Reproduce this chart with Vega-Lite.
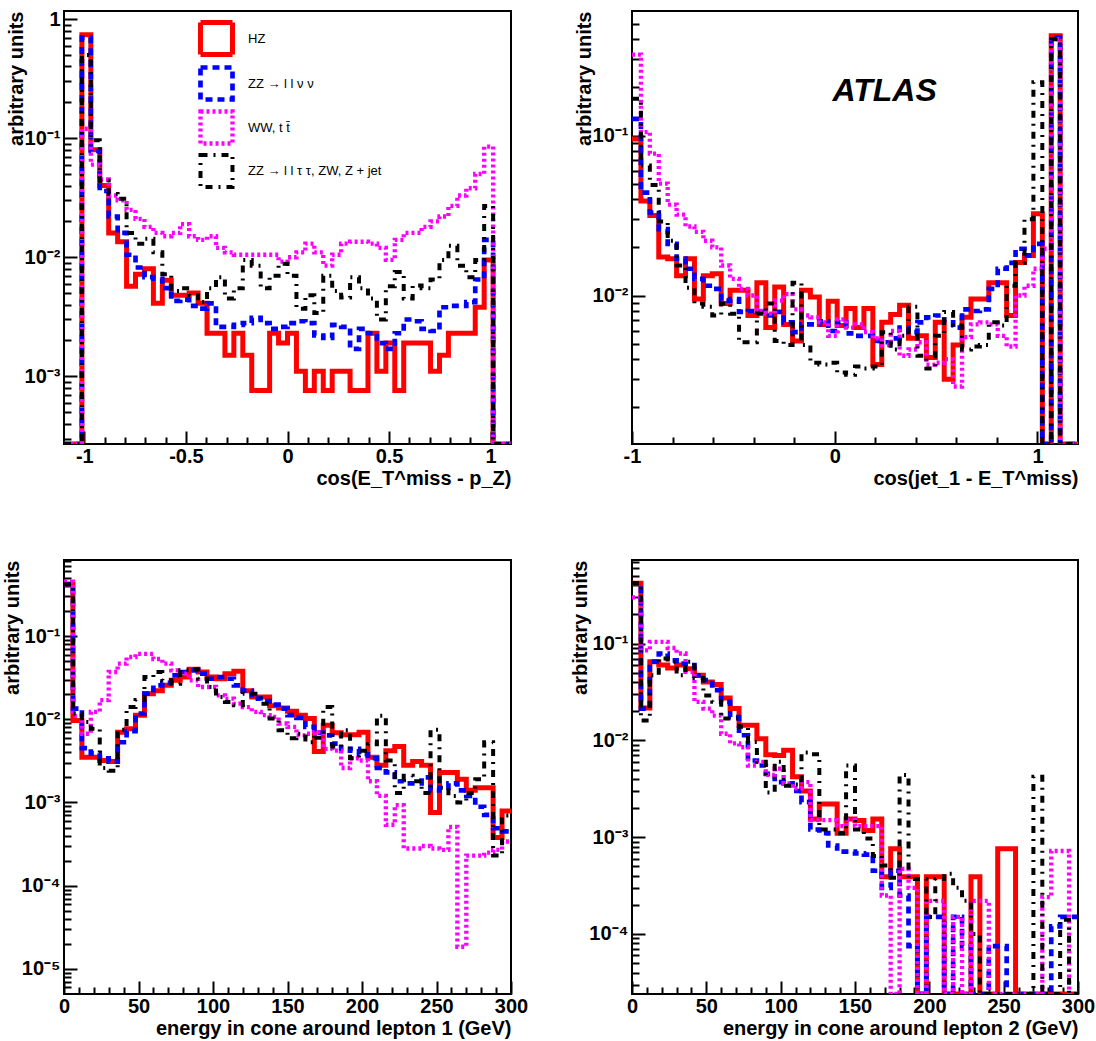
{
"$schema": "https://vega.github.io/schema/vega-lite/v6.json",
"background": "white",
"padding": {"left": 1, "top": 8, "right": 0, "bottom": 0},
"columns": 2,
"spacing": {"row": 116, "column": 121},
"bounds": "flush",
"resolve": {"legend": {"color": "independent", "strokeDash": "independent", "strokeWidth": "independent"}},
"config": {
  "font": "Liberation Sans",
  "view": {"stroke": "#000000", "strokeWidth": 2},
  "axis": {"domain": false, "grid": false, "labelFont": "Liberation Sans", "labelFontWeight": "bold", "labelFontSize": 20, "labelColor": "#000000", "titleFont": "Liberation Sans", "titleFontWeight": "bold", "titleFontSize": 20, "titleColor": "#000000", "tickColor": "#000000", "tickWidth": 2, "labelOverlap": false, "labelFlush": false}
},
"datasets": {
"p1": [
{"s":"a","x":-1.1,"y":1e-9},{"s":"a","x":-1.056,"y":1e-9},{"s":"a","x":-1.012,"y":0.74},{"s":"a","x":-0.968,"y":0.08},{"s":"a","x":-0.924,"y":0.04},{"s":"a","x":-0.88,"y":0.016},{"s":"a","x":-0.836,"y":0.0135},{"s":"a","x":-0.792,"y":0.0057},{"s":"a","x":-0.748,"y":0.0072},{"s":"a","x":-0.704,"y":0.008},
{"s":"a","x":-0.66,"y":0.0041},{"s":"a","x":-0.616,"y":0.0064},{"s":"a","x":-0.572,"y":0.0048},{"s":"a","x":-0.528,"y":0.0048},{"s":"a","x":-0.484,"y":0.005},{"s":"a","x":-0.44,"y":0.0041},{"s":"a","x":-0.396,"y":0.0023},{"s":"a","x":-0.352,"y":0.0023},{"s":"a","x":-0.308,"y":0.0015},{"s":"a","x":-0.264,"y":0.0023},
{"s":"a","x":-0.22,"y":0.0015},{"s":"a","x":-0.176,"y":0.00076},{"s":"a","x":-0.132,"y":0.00076},{"s":"a","x":-0.088,"y":0.0023},{"s":"a","x":-0.044,"y":0.0019},{"s":"a","x":0,"y":0.0023},{"s":"a","x":0.044,"y":0.0011},{"s":"a","x":0.088,"y":0.00076},{"s":"a","x":0.132,"y":0.0011},{"s":"a","x":0.176,"y":0.00076},
{"s":"a","x":0.22,"y":0.0011},{"s":"a","x":0.264,"y":0.0011},{"s":"a","x":0.308,"y":0.00076},{"s":"a","x":0.352,"y":0.00076},{"s":"a","x":0.396,"y":0.0023},{"s":"a","x":0.44,"y":0.0011},{"s":"a","x":0.484,"y":0.0019},{"s":"a","x":0.528,"y":0.00076},{"s":"a","x":0.572,"y":0.0019},{"s":"a","x":0.616,"y":0.0019},
{"s":"a","x":0.66,"y":0.0019},{"s":"a","x":0.704,"y":0.0011},{"s":"a","x":0.748,"y":0.0015},{"s":"a","x":0.792,"y":0.0023},{"s":"a","x":0.836,"y":0.0023},{"s":"a","x":0.88,"y":0.0023},{"s":"a","x":0.924,"y":0.0038},{"s":"a","x":0.968,"y":0.0095},{"s":"a","x":1.012,"y":1e-9},{"s":"a","x":1.056,"y":1e-9},{"s":"a","x":1.1,"y":1e-9},
{"s":"b","x":-1.1,"y":1e-9},{"s":"b","x":-1.056,"y":1e-9},{"s":"b","x":-1.012,"y":0.7},{"s":"b","x":-0.968,"y":0.078},{"s":"b","x":-0.924,"y":0.036},{"s":"b","x":-0.88,"y":0.022},{"s":"b","x":-0.836,"y":0.016},{"s":"b","x":-0.792,"y":0.0105},{"s":"b","x":-0.748,"y":0.0082},{"s":"b","x":-0.704,"y":0.0068},
{"s":"b","x":-0.66,"y":0.0066},{"s":"b","x":-0.616,"y":0.0055},{"s":"b","x":-0.572,"y":0.0043},{"s":"b","x":-0.528,"y":0.0044},{"s":"b","x":-0.484,"y":0.0039},{"s":"b","x":-0.44,"y":0.0037},{"s":"b","x":-0.396,"y":0.0041},{"s":"b","x":-0.352,"y":0.0026},{"s":"b","x":-0.308,"y":0.0026},{"s":"b","x":-0.264,"y":0.0027},
{"s":"b","x":-0.22,"y":0.0028},{"s":"b","x":-0.176,"y":0.0031},{"s":"b","x":-0.132,"y":0.0028},{"s":"b","x":-0.088,"y":0.0025},{"s":"b","x":-0.044,"y":0.0026},{"s":"b","x":0,"y":0.0028},{"s":"b","x":0.044,"y":0.0029},{"s":"b","x":0.088,"y":0.0028},{"s":"b","x":0.132,"y":0.0022},{"s":"b","x":0.176,"y":0.0021},
{"s":"b","x":0.22,"y":0.0027},{"s":"b","x":0.264,"y":0.0026},{"s":"b","x":0.308,"y":0.0017},{"s":"b","x":0.352,"y":0.0025},{"s":"b","x":0.396,"y":0.0023},{"s":"b","x":0.44,"y":0.0019},{"s":"b","x":0.484,"y":0.0017},{"s":"b","x":0.528,"y":0.0023},{"s":"b","x":0.572,"y":0.003},{"s":"b","x":0.616,"y":0.0029},
{"s":"b","x":0.66,"y":0.0025},{"s":"b","x":0.704,"y":0.0024},{"s":"b","x":0.748,"y":0.0038},{"s":"b","x":0.792,"y":0.0039},{"s":"b","x":0.836,"y":0.0039},{"s":"b","x":0.88,"y":0.0042},{"s":"b","x":0.924,"y":0.0065},{"s":"b","x":0.968,"y":0.014},{"s":"b","x":1.012,"y":1e-9},{"s":"b","x":1.056,"y":1e-9},{"s":"b","x":1.1,"y":1e-9},
{"s":"c","x":-1.1,"y":1e-9},{"s":"c","x":-1.056,"y":1e-9},{"s":"c","x":-1.012,"y":0.12},{"s":"c","x":-0.968,"y":0.06},{"s":"c","x":-0.924,"y":0.045},{"s":"c","x":-0.88,"y":0.033},{"s":"c","x":-0.836,"y":0.03},{"s":"c","x":-0.792,"y":0.025},{"s":"c","x":-0.748,"y":0.021},{"s":"c","x":-0.704,"y":0.018},
{"s":"c","x":-0.66,"y":0.016},{"s":"c","x":-0.616,"y":0.015},{"s":"c","x":-0.572,"y":0.016},{"s":"c","x":-0.528,"y":0.019},{"s":"c","x":-0.484,"y":0.015},{"s":"c","x":-0.44,"y":0.014},{"s":"c","x":-0.396,"y":0.015},{"s":"c","x":-0.352,"y":0.012},{"s":"c","x":-0.308,"y":0.011},{"s":"c","x":-0.264,"y":0.0105},
{"s":"c","x":-0.22,"y":0.0105},{"s":"c","x":-0.176,"y":0.0105},{"s":"c","x":-0.132,"y":0.0105},{"s":"c","x":-0.088,"y":0.0105},{"s":"c","x":-0.044,"y":0.0092},{"s":"c","x":0,"y":0.01},{"s":"c","x":0.044,"y":0.011},{"s":"c","x":0.088,"y":0.013},{"s":"c","x":0.132,"y":0.011},{"s":"c","x":0.176,"y":0.0085},
{"s":"c","x":0.22,"y":0.0105},{"s":"c","x":0.264,"y":0.013},{"s":"c","x":0.308,"y":0.0135},{"s":"c","x":0.352,"y":0.0135},{"s":"c","x":0.396,"y":0.013},{"s":"c","x":0.44,"y":0.012},{"s":"c","x":0.484,"y":0.0095},{"s":"c","x":0.528,"y":0.014},{"s":"c","x":0.572,"y":0.016},{"s":"c","x":0.616,"y":0.016},
{"s":"c","x":0.66,"y":0.018},{"s":"c","x":0.704,"y":0.02},{"s":"c","x":0.748,"y":0.022},{"s":"c","x":0.792,"y":0.027},{"s":"c","x":0.836,"y":0.033},{"s":"c","x":0.88,"y":0.038},{"s":"c","x":0.924,"y":0.05},{"s":"c","x":0.968,"y":0.085},{"s":"c","x":1.012,"y":1e-9},{"s":"c","x":1.056,"y":1e-9},{"s":"c","x":1.1,"y":1e-9},
{"s":"d","x":-1.1,"y":1e-9},{"s":"d","x":-1.056,"y":1e-9},{"s":"d","x":-1.012,"y":0.5},{"s":"d","x":-0.968,"y":0.096},{"s":"d","x":-0.924,"y":0.044},{"s":"d","x":-0.88,"y":0.034},{"s":"d","x":-0.836,"y":0.031},{"s":"d","x":-0.792,"y":0.016},{"s":"d","x":-0.748,"y":0.013},{"s":"d","x":-0.704,"y":0.0143},
{"s":"d","x":-0.66,"y":0.011},{"s":"d","x":-0.616,"y":0.0072},{"s":"d","x":-0.572,"y":0.0052},{"s":"d","x":-0.528,"y":0.0055},{"s":"d","x":-0.484,"y":0.0048},{"s":"d","x":-0.44,"y":0.0042},{"s":"d","x":-0.396,"y":0.0055},{"s":"d","x":-0.352,"y":0.0068},{"s":"d","x":-0.308,"y":0.0045},{"s":"d","x":-0.264,"y":0.0055},
{"s":"d","x":-0.22,"y":0.0095},{"s":"d","x":-0.176,"y":0.0085},{"s":"d","x":-0.132,"y":0.0055},{"s":"d","x":-0.088,"y":0.007},{"s":"d","x":-0.044,"y":0.0088},{"s":"d","x":0,"y":0.007},{"s":"d","x":0.044,"y":0.0037},{"s":"d","x":0.088,"y":0.0048},{"s":"d","x":0.132,"y":0.0034},{"s":"d","x":0.176,"y":0.007},
{"s":"d","x":0.22,"y":0.0052},{"s":"d","x":0.264,"y":0.0046},{"s":"d","x":0.308,"y":0.0068},{"s":"d","x":0.352,"y":0.0055},{"s":"d","x":0.396,"y":0.0045},{"s":"d","x":0.44,"y":0.003},{"s":"d","x":0.484,"y":0.0057},{"s":"d","x":0.528,"y":0.0075},{"s":"d","x":0.572,"y":0.0045},{"s":"d","x":0.616,"y":0.0058},
{"s":"d","x":0.66,"y":0.0055},{"s":"d","x":0.704,"y":0.0065},{"s":"d","x":0.748,"y":0.0095},{"s":"d","x":0.792,"y":0.0125},{"s":"d","x":0.836,"y":0.0085},{"s":"d","x":0.88,"y":0.0068},{"s":"d","x":0.924,"y":0.0095},{"s":"d","x":0.968,"y":0.027},{"s":"d","x":1.012,"y":1e-9},{"s":"d","x":1.056,"y":1e-9},{"s":"d","x":1.1,"y":1e-9}
],
"p2": [
{"s":"a","x":-1,"y":0.095},{"s":"a","x":-0.956,"y":0.039},{"s":"a","x":-0.912,"y":0.0316},{"s":"a","x":-0.868,"y":0.0174},{"s":"a","x":-0.824,"y":0.017},{"s":"a","x":-0.78,"y":0.0133},{"s":"a","x":-0.736,"y":0.017},{"s":"a","x":-0.692,"y":0.0095},{"s":"a","x":-0.648,"y":0.0133},{"s":"a","x":-0.604,"y":0.0137},
{"s":"a","x":-0.56,"y":0.0089},{"s":"a","x":-0.516,"y":0.0108},{"s":"a","x":-0.472,"y":0.0108},{"s":"a","x":-0.428,"y":0.0075},{"s":"a","x":-0.384,"y":0.012},{"s":"a","x":-0.34,"y":0.0063},{"s":"a","x":-0.296,"y":0.0113},{"s":"a","x":-0.252,"y":0.0066},{"s":"a","x":-0.208,"y":0.0052},{"s":"a","x":-0.164,"y":0.0108},
{"s":"a","x":-0.12,"y":0.0098},{"s":"a","x":-0.076,"y":0.0066},{"s":"a","x":-0.032,"y":0.0092},{"s":"a","x":0.012,"y":0.0065},{"s":"a","x":0.056,"y":0.0083},{"s":"a","x":0.1,"y":0.0063},{"s":"a","x":0.144,"y":0.0083},{"s":"a","x":0.188,"y":0.0037},{"s":"a","x":0.232,"y":0.0068},{"s":"a","x":0.276,"y":0.0076},
{"s":"a","x":0.32,"y":0.0087},{"s":"a","x":0.364,"y":0.0054},{"s":"a","x":0.408,"y":0.0056},{"s":"a","x":0.452,"y":0.0041},{"s":"a","x":0.496,"y":0.0068},{"s":"a","x":0.54,"y":0.003},{"s":"a","x":0.584,"y":0.0049},{"s":"a","x":0.628,"y":0.0073},{"s":"a","x":0.672,"y":0.0095},{"s":"a","x":0.716,"y":0.0095},
{"s":"a","x":0.76,"y":0.012},{"s":"a","x":0.804,"y":0.012},{"s":"a","x":0.848,"y":0.0075},{"s":"a","x":0.892,"y":0.0161},{"s":"a","x":0.936,"y":0.0178},{"s":"a","x":0.98,"y":0.0324},{"s":"a","x":1.024,"y":1e-9},{"s":"a","x":1.068,"y":0.42},{"s":"a","x":1.112,"y":1e-9},{"s":"a","x":1.156,"y":1e-9},{"s":"a","x":1.2,"y":1e-9},
{"s":"b","x":-1,"y":0.127},{"s":"b","x":-0.956,"y":0.044},{"s":"b","x":-0.912,"y":0.033},{"s":"b","x":-0.868,"y":0.026},{"s":"b","x":-0.824,"y":0.021},{"s":"b","x":-0.78,"y":0.017},{"s":"b","x":-0.736,"y":0.0147},{"s":"b","x":-0.692,"y":0.0127},{"s":"b","x":-0.648,"y":0.0115},{"s":"b","x":-0.604,"y":0.011},
{"s":"b","x":-0.56,"y":0.0093},{"s":"b","x":-0.516,"y":0.0095},{"s":"b","x":-0.472,"y":0.0079},{"s":"b","x":-0.428,"y":0.008},{"s":"b","x":-0.384,"y":0.0079},{"s":"b","x":-0.34,"y":0.0075},{"s":"b","x":-0.296,"y":0.0079},{"s":"b","x":-0.252,"y":0.0068},{"s":"b","x":-0.208,"y":0.0059},{"s":"b","x":-0.164,"y":0.0066},
{"s":"b","x":-0.12,"y":0.0066},{"s":"b","x":-0.076,"y":0.0069},{"s":"b","x":-0.032,"y":0.006},{"s":"b","x":0.012,"y":0.0068},{"s":"b","x":0.056,"y":0.0058},{"s":"b","x":0.1,"y":0.0056},{"s":"b","x":0.144,"y":0.0056},{"s":"b","x":0.188,"y":0.0052},{"s":"b","x":0.232,"y":0.0051},{"s":"b","x":0.276,"y":0.0054},
{"s":"b","x":0.32,"y":0.0063},{"s":"b","x":0.364,"y":0.0059},{"s":"b","x":0.408,"y":0.0068},{"s":"b","x":0.452,"y":0.0073},{"s":"b","x":0.496,"y":0.0075},{"s":"b","x":0.54,"y":0.0068},{"s":"b","x":0.584,"y":0.0063},{"s":"b","x":0.628,"y":0.0082},{"s":"b","x":0.672,"y":0.008},{"s":"b","x":0.716,"y":0.0082},
{"s":"b","x":0.76,"y":0.011},{"s":"b","x":0.804,"y":0.0147},{"s":"b","x":0.848,"y":0.016},{"s":"b","x":0.892,"y":0.0196},{"s":"b","x":0.936,"y":0.0178},{"s":"b","x":0.98,"y":0.021},{"s":"b","x":1.024,"y":1e-9},{"s":"b","x":1.068,"y":0.41},{"s":"b","x":1.112,"y":1e-9},{"s":"b","x":1.156,"y":1e-9},{"s":"b","x":1.2,"y":1e-9},
{"s":"c","x":-1,"y":0.32},{"s":"c","x":-0.956,"y":0.105},{"s":"c","x":-0.912,"y":0.077},{"s":"c","x":-0.868,"y":0.05},{"s":"c","x":-0.824,"y":0.037},{"s":"c","x":-0.78,"y":0.032},{"s":"c","x":-0.736,"y":0.027},{"s":"c","x":-0.692,"y":0.025},{"s":"c","x":-0.648,"y":0.022},{"s":"c","x":-0.604,"y":0.02},
{"s":"c","x":-0.56,"y":0.0154},{"s":"c","x":-0.516,"y":0.0127},{"s":"c","x":-0.472,"y":0.011},{"s":"c","x":-0.428,"y":0.01},{"s":"c","x":-0.384,"y":0.008},{"s":"c","x":-0.34,"y":0.0077},{"s":"c","x":-0.296,"y":0.0093},{"s":"c","x":-0.252,"y":0.0102},{"s":"c","x":-0.208,"y":0.0082},{"s":"c","x":-0.164,"y":0.0075},
{"s":"c","x":-0.12,"y":0.0073},{"s":"c","x":-0.076,"y":0.0068},{"s":"c","x":-0.032,"y":0.0056},{"s":"c","x":0.012,"y":0.0071},{"s":"c","x":0.056,"y":0.0063},{"s":"c","x":0.1,"y":0.0066},{"s":"c","x":0.144,"y":0.0059},{"s":"c","x":0.188,"y":0.0054},{"s":"c","x":0.232,"y":0.0049},{"s":"c","x":0.276,"y":0.006},
{"s":"c","x":0.32,"y":0.0042},{"s":"c","x":0.364,"y":0.0046},{"s":"c","x":0.408,"y":0.0051},{"s":"c","x":0.452,"y":0.0037},{"s":"c","x":0.496,"y":0.0038},{"s":"c","x":0.54,"y":0.004},{"s":"c","x":0.584,"y":0.0027},{"s":"c","x":0.628,"y":0.0055},{"s":"c","x":0.672,"y":0.0066},{"s":"c","x":0.716,"y":0.0068},
{"s":"c","x":0.76,"y":0.0066},{"s":"c","x":0.804,"y":0.0056},{"s":"c","x":0.848,"y":0.0048},{"s":"c","x":0.892,"y":0.01},{"s":"c","x":0.936,"y":0.0115},{"s":"c","x":0.98,"y":0.0147},{"s":"c","x":1.024,"y":0.0196},{"s":"c","x":1.068,"y":0.4},{"s":"c","x":1.112,"y":1e-9},{"s":"c","x":1.156,"y":1e-9},{"s":"c","x":1.2,"y":1e-9},
{"s":"d","x":-1,"y":0.17},{"s":"d","x":-0.956,"y":0.065},{"s":"d","x":-0.912,"y":0.049},{"s":"d","x":-0.868,"y":0.029},{"s":"d","x":-0.824,"y":0.022},{"s":"d","x":-0.78,"y":0.0154},{"s":"d","x":-0.736,"y":0.0112},{"s":"d","x":-0.692,"y":0.0089},{"s":"d","x":-0.648,"y":0.0085},{"s":"d","x":-0.604,"y":0.0075},
{"s":"d","x":-0.56,"y":0.0089},{"s":"d","x":-0.516,"y":0.0077},{"s":"d","x":-0.472,"y":0.0051},{"s":"d","x":-0.428,"y":0.0051},{"s":"d","x":-0.384,"y":0.0077},{"s":"d","x":-0.34,"y":0.0089},{"s":"d","x":-0.296,"y":0.0052},{"s":"d","x":-0.252,"y":0.0049},{"s":"d","x":-0.208,"y":0.012},{"s":"d","x":-0.164,"y":0.0049},
{"s":"d","x":-0.12,"y":0.0038},{"s":"d","x":-0.076,"y":0.0037},{"s":"d","x":-0.032,"y":0.0038},{"s":"d","x":0.012,"y":0.0033},{"s":"d","x":0.056,"y":0.0032},{"s":"d","x":0.1,"y":0.0036},{"s":"d","x":0.144,"y":0.0035},{"s":"d","x":0.188,"y":0.0036},{"s":"d","x":0.232,"y":0.0059},{"s":"d","x":0.276,"y":0.0046},
{"s":"d","x":0.32,"y":0.0056},{"s":"d","x":0.364,"y":0.0085},{"s":"d","x":0.408,"y":0.0042},{"s":"d","x":0.452,"y":0.0035},{"s":"d","x":0.496,"y":0.0056},{"s":"d","x":0.54,"y":0.0079},{"s":"d","x":0.584,"y":0.0065},{"s":"d","x":0.628,"y":0.0046},{"s":"d","x":0.672,"y":0.0048},{"s":"d","x":0.716,"y":0.0049},
{"s":"d","x":0.76,"y":0.0068},{"s":"d","x":0.804,"y":0.0065},{"s":"d","x":0.848,"y":0.0115},{"s":"d","x":0.892,"y":0.016},{"s":"d","x":0.936,"y":0.03},{"s":"d","x":0.98,"y":0.215},{"s":"d","x":1.024,"y":1e-9},{"s":"d","x":1.068,"y":0.4},{"s":"d","x":1.112,"y":1e-9},{"s":"d","x":1.156,"y":1e-9},{"s":"d","x":1.2,"y":1e-9}
],
"p3": [
{"s":"a","x":0,"y":0.42},{"s":"a","x":6,"y":0.0097},{"s":"a","x":12,"y":0.0035},{"s":"a","x":18,"y":0.0035},{"s":"a","x":24,"y":0.0032},{"s":"a","x":30,"y":0.0031},{"s":"a","x":36,"y":0.007},{"s":"a","x":42,"y":0.0077},{"s":"a","x":48,"y":0.0112},{"s":"a","x":54,"y":0.0203},
{"s":"a","x":60,"y":0.022},{"s":"a","x":66,"y":0.0256},{"s":"a","x":72,"y":0.0294},{"s":"a","x":78,"y":0.0322},{"s":"a","x":84,"y":0.04},{"s":"a","x":90,"y":0.037},{"s":"a","x":96,"y":0.0322},{"s":"a","x":102,"y":0.0307},{"s":"a","x":108,"y":0.0353},{"s":"a","x":114,"y":0.0377},
{"s":"a","x":120,"y":0.022},{"s":"a","x":126,"y":0.0185},{"s":"a","x":132,"y":0.0185},{"s":"a","x":138,"y":0.0145},{"s":"a","x":144,"y":0.0137},{"s":"a","x":150,"y":0.0125},{"s":"a","x":156,"y":0.0112},{"s":"a","x":162,"y":0.0102},{"s":"a","x":168,"y":0.0041},{"s":"a","x":174,"y":0.0085},
{"s":"a","x":180,"y":0.0069},{"s":"a","x":186,"y":0.0065},{"s":"a","x":192,"y":0.0065},{"s":"a","x":198,"y":0.007},{"s":"a","x":204,"y":0.0035},{"s":"a","x":210,"y":0.0028},{"s":"a","x":216,"y":0.0042},{"s":"a","x":222,"y":0.0047},{"s":"a","x":228,"y":0.0028},{"s":"a","x":234,"y":0.0031},
{"s":"a","x":240,"y":0.0028},{"s":"a","x":246,"y":0.00076},{"s":"a","x":252,"y":0.0023},{"s":"a","x":258,"y":0.0023},{"s":"a","x":264,"y":0.0019},{"s":"a","x":270,"y":0.0014},{"s":"a","x":276,"y":0.0015},{"s":"a","x":282,"y":0.0015},{"s":"a","x":288,"y":0.00038},{"s":"a","x":294,"y":0.00079},{"s":"a","x":300,"y":0.00079},
{"s":"b","x":0,"y":0.42},{"s":"b","x":6,"y":0.0134},{"s":"b","x":12,"y":0.0045},{"s":"b","x":18,"y":0.0039},{"s":"b","x":24,"y":0.0034},{"s":"b","x":30,"y":0.0031},{"s":"b","x":36,"y":0.0053},{"s":"b","x":42,"y":0.0072},{"s":"b","x":48,"y":0.0117},{"s":"b","x":54,"y":0.0203},
{"s":"b","x":60,"y":0.0256},{"s":"b","x":66,"y":0.0275},{"s":"b","x":72,"y":0.0337},{"s":"b","x":78,"y":0.037},{"s":"b","x":84,"y":0.0387},{"s":"b","x":90,"y":0.0353},{"s":"b","x":96,"y":0.0307},{"s":"b","x":102,"y":0.0322},{"s":"b","x":108,"y":0.0307},{"s":"b","x":114,"y":0.0256},
{"s":"b","x":120,"y":0.022},{"s":"b","x":126,"y":0.0177},{"s":"b","x":132,"y":0.0165},{"s":"b","x":138,"y":0.015},{"s":"b","x":144,"y":0.0134},{"s":"b","x":150,"y":0.0112},{"s":"b","x":156,"y":0.0104},{"s":"b","x":162,"y":0.0081},{"s":"b","x":168,"y":0.0069},{"s":"b","x":174,"y":0.0064},
{"s":"b","x":180,"y":0.0051},{"s":"b","x":186,"y":0.0042},{"s":"b","x":192,"y":0.0044},{"s":"b","x":198,"y":0.0038},{"s":"b","x":204,"y":0.0034},{"s":"b","x":210,"y":0.0026},{"s":"b","x":216,"y":0.0023},{"s":"b","x":222,"y":0.0018},{"s":"b","x":228,"y":0.0017},{"s":"b","x":234,"y":0.0017},
{"s":"b","x":240,"y":0.002},{"s":"b","x":246,"y":0.0014},{"s":"b","x":252,"y":0.0015},{"s":"b","x":258,"y":0.0017},{"s":"b","x":264,"y":0.0014},{"s":"b","x":270,"y":0.0012},{"s":"b","x":276,"y":0.00089},{"s":"b","x":282,"y":0.00071},{"s":"b","x":288,"y":0.00049},{"s":"b","x":294,"y":0.00045},{"s":"b","x":300,"y":0.00045},
{"s":"c","x":0,"y":0.45},{"s":"c","x":6,"y":0.011},{"s":"c","x":12,"y":0.0067},{"s":"c","x":18,"y":0.0123},{"s":"c","x":24,"y":0.017},{"s":"c","x":30,"y":0.037},{"s":"c","x":36,"y":0.0466},{"s":"c","x":42,"y":0.056},{"s":"c","x":48,"y":0.061},{"s":"c","x":54,"y":0.061},
{"s":"c","x":60,"y":0.053},{"s":"c","x":66,"y":0.0466},{"s":"c","x":72,"y":0.0387},{"s":"c","x":78,"y":0.0353},{"s":"c","x":84,"y":0.0294},{"s":"c","x":90,"y":0.0244},{"s":"c","x":96,"y":0.0244},{"s":"c","x":102,"y":0.0194},{"s":"c","x":108,"y":0.0177},{"s":"c","x":114,"y":0.0154},
{"s":"c","x":120,"y":0.014},{"s":"c","x":126,"y":0.0123},{"s":"c","x":132,"y":0.0112},{"s":"c","x":138,"y":0.0107},{"s":"c","x":144,"y":0.0089},{"s":"c","x":150,"y":0.0081},{"s":"c","x":156,"y":0.0064},{"s":"c","x":162,"y":0.0067},{"s":"c","x":168,"y":0.007},{"s":"c","x":174,"y":0.0044},
{"s":"c","x":180,"y":0.0042},{"s":"c","x":186,"y":0.0026},{"s":"c","x":192,"y":0.0034},{"s":"c","x":198,"y":0.0032},{"s":"c","x":204,"y":0.0018},{"s":"c","x":210,"y":0.0012},{"s":"c","x":216,"y":0.00054},{"s":"c","x":222,"y":0.00093},{"s":"c","x":228,"y":0.00028},{"s":"c","x":234,"y":0.00028},
{"s":"c","x":240,"y":0.0003},{"s":"c","x":246,"y":0.00028},{"s":"c","x":252,"y":0.00027},{"s":"c","x":258,"y":0.00051},{"s":"c","x":264,"y":0.0000185},{"s":"c","x":270,"y":0.00023},{"s":"c","x":276,"y":0.00023},{"s":"c","x":282,"y":0.00025},{"s":"c","x":288,"y":0.00027},{"s":"c","x":294,"y":0.00034},{"s":"c","x":300,"y":0.00034},
{"s":"d","x":0,"y":0.42},{"s":"d","x":6,"y":0.0117},{"s":"d","x":12,"y":0.0093},{"s":"d","x":18,"y":0.0077},{"s":"d","x":24,"y":0.0026},{"s":"d","x":30,"y":0.0024},{"s":"d","x":36,"y":0.0075},{"s":"d","x":42,"y":0.014},{"s":"d","x":48,"y":0.017},{"s":"d","x":54,"y":0.0322},
{"s":"d","x":60,"y":0.037},{"s":"d","x":66,"y":0.0294},{"s":"d","x":72,"y":0.0268},{"s":"d","x":78,"y":0.0387},{"s":"d","x":84,"y":0.04},{"s":"d","x":90,"y":0.0307},{"s":"d","x":96,"y":0.0244},{"s":"d","x":102,"y":0.0185},{"s":"d","x":108,"y":0.0161},{"s":"d","x":114,"y":0.0147},
{"s":"d","x":120,"y":0.0203},{"s":"d","x":126,"y":0.0203},{"s":"d","x":132,"y":0.0154},{"s":"d","x":138,"y":0.0102},{"s":"d","x":144,"y":0.0074},{"s":"d","x":150,"y":0.0059},{"s":"d","x":156,"y":0.0067},{"s":"d","x":162,"y":0.0053},{"s":"d","x":168,"y":0.006},{"s":"d","x":174,"y":0.014},
{"s":"d","x":180,"y":0.0047},{"s":"d","x":186,"y":0.0074},{"s":"d","x":192,"y":0.0034},{"s":"d","x":198,"y":0.0042},{"s":"d","x":204,"y":0.005},{"s":"d","x":210,"y":0.011},{"s":"d","x":216,"y":0.0032},{"s":"d","x":222,"y":0.0013},{"s":"d","x":228,"y":0.0021},{"s":"d","x":234,"y":0.0018},
{"s":"d","x":240,"y":0.0013},{"s":"d","x":246,"y":0.0075},{"s":"d","x":252,"y":0.0015},{"s":"d","x":258,"y":0.0012},{"s":"d","x":264,"y":0.001},{"s":"d","x":270,"y":0.0013},{"s":"d","x":276,"y":0.0019},{"s":"d","x":282,"y":0.0053},{"s":"d","x":288,"y":0.00023},{"s":"d","x":294,"y":0.0007},{"s":"d","x":300,"y":0.0007}
],
"p4": [
{"s":"a","x":0,"y":0.42},{"s":"a","x":6,"y":0.0216},{"s":"a","x":12,"y":0.065},{"s":"a","x":18,"y":0.06},{"s":"a","x":24,"y":0.056},{"s":"a","x":30,"y":0.06},{"s":"a","x":36,"y":0.055},{"s":"a","x":42,"y":0.047},{"s":"a","x":48,"y":0.04},{"s":"a","x":54,"y":0.0377},
{"s":"a","x":60,"y":0.0274},{"s":"a","x":66,"y":0.0213},{"s":"a","x":72,"y":0.0143},{"s":"a","x":78,"y":0.0143},{"s":"a","x":84,"y":0.0104},{"s":"a","x":90,"y":0.0071},{"s":"a","x":96,"y":0.007},{"s":"a","x":102,"y":0.0079},{"s":"a","x":108,"y":0.0042},{"s":"a","x":114,"y":0.003},
{"s":"a","x":120,"y":0.00154},{"s":"a","x":126,"y":0.0022},{"s":"a","x":132,"y":0.0022},{"s":"a","x":138,"y":0.0011},{"s":"a","x":144,"y":0.00154},{"s":"a","x":150,"y":0.00149},{"s":"a","x":156,"y":0.00117},{"s":"a","x":162,"y":0.00154},{"s":"a","x":168,"y":0.00039},{"s":"a","x":174,"y":0.00076},
{"s":"a","x":180,"y":0.00039},{"s":"a","x":186,"y":0.00039},{"s":"a","x":192,"y":1e-9},{"s":"a","x":198,"y":0.00039},{"s":"a","x":204,"y":0.00039},{"s":"a","x":210,"y":1e-9},{"s":"a","x":216,"y":1e-9},{"s":"a","x":222,"y":1e-9},{"s":"a","x":228,"y":0.00039},{"s":"a","x":234,"y":1e-9},
{"s":"a","x":240,"y":1e-9},{"s":"a","x":246,"y":0.00076},{"s":"a","x":252,"y":0.00076},{"s":"a","x":258,"y":1e-9},{"s":"a","x":264,"y":1e-9},{"s":"a","x":270,"y":1e-9},{"s":"a","x":276,"y":1e-9},{"s":"a","x":282,"y":1e-9},{"s":"a","x":288,"y":1e-9},{"s":"a","x":294,"y":1e-9},{"s":"a","x":300,"y":1e-9},
{"s":"b","x":0,"y":0.42},{"s":"b","x":6,"y":0.0213},{"s":"b","x":12,"y":0.065},{"s":"b","x":18,"y":0.079},{"s":"b","x":24,"y":0.067},{"s":"b","x":30,"y":0.062},{"s":"b","x":36,"y":0.06},{"s":"b","x":42,"y":0.047},{"s":"b","x":48,"y":0.042},{"s":"b","x":54,"y":0.033},
{"s":"b","x":60,"y":0.025},{"s":"b","x":66,"y":0.0174},{"s":"b","x":72,"y":0.0113},{"s":"b","x":78,"y":0.0062},{"s":"b","x":84,"y":0.0055},{"s":"b","x":90,"y":0.0045},{"s":"b","x":96,"y":0.0037},{"s":"b","x":102,"y":0.0036},{"s":"b","x":108,"y":0.003},{"s":"b","x":114,"y":0.0023},
{"s":"b","x":120,"y":0.0012},{"s":"b","x":126,"y":0.0011},{"s":"b","x":132,"y":0.00082},{"s":"b","x":138,"y":0.00071},{"s":"b","x":144,"y":0.00071},{"s":"b","x":150,"y":0.00068},{"s":"b","x":156,"y":0.00066},{"s":"b","x":162,"y":0.00045},{"s":"b","x":168,"y":0.0003},{"s":"b","x":174,"y":0.00045},
{"s":"b","x":180,"y":0.00025},{"s":"b","x":186,"y":0.000075},{"s":"b","x":192,"y":1e-9},{"s":"b","x":198,"y":0.00015},{"s":"b","x":204,"y":0.00015},{"s":"b","x":210,"y":1e-9},{"s":"b","x":216,"y":0.00015},{"s":"b","x":222,"y":0.000075},{"s":"b","x":228,"y":1e-9},{"s":"b","x":234,"y":1e-9},
{"s":"b","x":240,"y":0.000075},{"s":"b","x":246,"y":0.000075},{"s":"b","x":252,"y":1e-9},{"s":"b","x":258,"y":1e-9},{"s":"b","x":264,"y":1e-9},{"s":"b","x":270,"y":1e-9},{"s":"b","x":276,"y":1e-9},{"s":"b","x":282,"y":0.00012},{"s":"b","x":288,"y":0.00015},{"s":"b","x":294,"y":0.00015},{"s":"b","x":300,"y":0.00015},
{"s":"c","x":0,"y":0.3},{"s":"c","x":6,"y":0.085},{"s":"c","x":12,"y":0.104},{"s":"c","x":18,"y":0.104},{"s":"c","x":24,"y":0.09},{"s":"c","x":30,"y":0.079},{"s":"c","x":36,"y":0.051},{"s":"c","x":42,"y":0.025},{"s":"c","x":48,"y":0.0213},{"s":"c","x":54,"y":0.018},
{"s":"c","x":60,"y":0.0117},{"s":"c","x":66,"y":0.0093},{"s":"c","x":72,"y":0.0085},{"s":"c","x":78,"y":0.0055},{"s":"c","x":84,"y":0.006},{"s":"c","x":90,"y":0.0044},{"s":"c","x":96,"y":0.0051},{"s":"c","x":102,"y":0.0036},{"s":"c","x":108,"y":0.0032},{"s":"c","x":114,"y":0.0037},
{"s":"c","x":120,"y":0.0015},{"s":"c","x":126,"y":0.0015},{"s":"c","x":132,"y":0.0015},{"s":"c","x":138,"y":0.0013},{"s":"c","x":144,"y":0.0015},{"s":"c","x":150,"y":0.0013},{"s":"c","x":156,"y":0.0013},{"s":"c","x":162,"y":0.0013},{"s":"c","x":168,"y":0.00025},{"s":"c","x":174,"y":1e-9},
{"s":"c","x":180,"y":0.00047},{"s":"c","x":186,"y":0.0003},{"s":"c","x":192,"y":1e-9},{"s":"c","x":198,"y":0.00022},{"s":"c","x":204,"y":0.00022},{"s":"c","x":210,"y":1e-9},{"s":"c","x":216,"y":0.00015},{"s":"c","x":222,"y":1e-9},{"s":"c","x":228,"y":0.00022},{"s":"c","x":234,"y":0.00022},
{"s":"c","x":240,"y":1e-9},{"s":"c","x":246,"y":1e-9},{"s":"c","x":252,"y":1e-9},{"s":"c","x":258,"y":1e-9},{"s":"c","x":264,"y":1e-9},{"s":"c","x":270,"y":1e-9},{"s":"c","x":276,"y":0.00024},{"s":"c","x":282,"y":0.00072},{"s":"c","x":288,"y":0.00072},{"s":"c","x":294,"y":1e-9},{"s":"c","x":300,"y":1e-9},
{"s":"d","x":0,"y":0.42},{"s":"d","x":6,"y":0.016},{"s":"d","x":12,"y":0.047},{"s":"d","x":18,"y":0.07},{"s":"d","x":24,"y":0.065},{"s":"d","x":30,"y":0.047},{"s":"d","x":36,"y":0.065},{"s":"d","x":42,"y":0.044},{"s":"d","x":48,"y":0.029},{"s":"d","x":54,"y":0.025},
{"s":"d","x":60,"y":0.0168},{"s":"d","x":66,"y":0.0168},{"s":"d","x":72,"y":0.0138},{"s":"d","x":78,"y":0.0096},{"s":"d","x":84,"y":0.006},{"s":"d","x":90,"y":0.0029},{"s":"d","x":96,"y":0.006},{"s":"d","x":102,"y":0.0034},{"s":"d","x":108,"y":0.0035},{"s":"d","x":114,"y":0.0075},
{"s":"d","x":120,"y":0.0072},{"s":"d","x":126,"y":0.0012},{"s":"d","x":132,"y":0.0012},{"s":"d","x":138,"y":0.0011},{"s":"d","x":144,"y":0.0055},{"s":"d","x":150,"y":0.0012},{"s":"d","x":156,"y":0.00097},{"s":"d","x":162,"y":0.00064},{"s":"d","x":168,"y":0.00051},{"s":"d","x":174,"y":0.00038},
{"s":"d","x":180,"y":0.0044},{"s":"d","x":186,"y":0.00037},{"s":"d","x":192,"y":0.00037},{"s":"d","x":198,"y":0.00015},{"s":"d","x":204,"y":0.00037},{"s":"d","x":210,"y":0.00042},{"s":"d","x":216,"y":0.0003},{"s":"d","x":222,"y":0.00022},{"s":"d","x":228,"y":0.0001},{"s":"d","x":234,"y":1e-9},
{"s":"d","x":240,"y":1e-9},{"s":"d","x":246,"y":1e-9},{"s":"d","x":252,"y":1e-9},{"s":"d","x":258,"y":1e-9},{"s":"d","x":264,"y":1e-9},{"s":"d","x":270,"y":0.0042},{"s":"d","x":276,"y":1e-9},{"s":"d","x":282,"y":1e-9},{"s":"d","x":288,"y":0.00014},{"s":"d","x":294,"y":1e-9},{"s":"d","x":300,"y":1e-9}
]
},
"concat": [
{
  "width": 447, "height": 433,
  "data": {"name": "p1"},
  "mark": {"type": "line", "interpolate": "step-after", "clip": true},
  "encoding": {
    "x": {"field": "x", "type": "quantitative", "scale": {"domain": [-1.1, 1.1], "nice": false, "zero": false},
      "axis": {"title": "cos(E_T^miss - p_Z)", "titleAnchor": "end", "titlePadding": -4, "labelPadding": 15,
        "values": [-1,-0.9,-0.8,-0.7,-0.6,-0.5,-0.4,-0.3,-0.2,-0.1,0,0.1,0.2,0.3,0.4,0.5,0.6,0.7,0.8,0.9,1],
        "labelExpr": "abs(datum.value*2 - round(datum.value*2)) < 0.001 ? (datum.value < 0 ? '-' + format(-datum.value, '') : format(datum.value, '')) : ''",
        "tickSize": {"condition": {"test": "abs(datum.value*2 - round(datum.value*2)) < 0.001", "value": -13}, "value": -7}}},
    "y": {"field": "y", "type": "quantitative", "scale": {"type": "log", "domain": [0.00027, 1.17], "nice": false, "clamp": true},
      "axis": {"title": "arbitrary units", "titleAnchor": "end", "titlePadding": -2, "labelPadding": 17,
        "values": [0.0003,0.0004,0.0005,0.0006,0.0007,0.0008,0.0009,0.001,0.002,0.003,0.004,0.005,0.006,0.007,0.008,0.009,0.01,0.02,0.03,0.04,0.05,0.06,0.07,0.08,0.09,0.1,0.2,0.3,0.4,0.5,0.6,0.7,0.8,0.9,1],
        "labelExpr": "abs(log(datum.value)/LN10 - round(log(datum.value)/LN10)) < 0.001 ? (round(log(datum.value)/LN10) == 0 ? '1' : '10' + ['', '⁻¹', '⁻²', '⁻³', '⁻⁴', '⁻⁵'][-round(log(datum.value)/LN10)]) : ''",
        "tickSize": {"condition": {"test": "abs(log(datum.value)/LN10 - round(log(datum.value)/LN10)) < 0.001", "value": -13}, "value": -7}}},
    "color": {"field": "s", "type": "nominal", "scale": {"domain": ["a","b","c","d"], "range": ["#ff0000","#0000ff","#ff00ff","#000000"]},
      "legend": {"orient": "none", "legendX": 134, "legendY": 9, "title": null, "symbolType": "square", "symbolSize": 1024, "labelFontSize": 13, "labelFont": "Liberation Sans", "labelColor": "#000000", "labelOffset": 13, "rowPadding": -11, "padding": 0,
        "labelExpr": "datum.label == 'a' ? 'HZ' : datum.label == 'b' ? 'ZZ → l l ν ν' : datum.label == 'c' ? 'WW, t t\u0304' : 'ZZ → l l τ τ, ZW, Z + jet'"}},
    "strokeDash": {"field": "s", "type": "nominal", "scale": {"domain": ["a","b","c","d"], "range": [[1,0],[7,5],[3,3],[7,6,2,6]]},
      "legend": {"orient": "none", "legendX": 134, "legendY": 9, "title": null, "symbolType": "square", "symbolSize": 1024, "labelFontSize": 13, "labelFont": "Liberation Sans", "labelColor": "#000000", "labelOffset": 13, "rowPadding": -11, "padding": 0,
        "labelExpr": "datum.label == 'a' ? 'HZ' : datum.label == 'b' ? 'ZZ → l l ν ν' : datum.label == 'c' ? 'WW, t t\u0304' : 'ZZ → l l τ τ, ZW, Z + jet'"}},
    "strokeWidth": {"field": "s", "type": "nominal", "scale": {"domain": ["a","b","c","d"], "range": [5,4,3,4]},
      "legend": {"orient": "none", "legendX": 134, "legendY": 9, "title": null, "symbolType": "square", "symbolSize": 1024, "labelFontSize": 13, "labelFont": "Liberation Sans", "labelColor": "#000000", "labelOffset": 13, "rowPadding": -11, "padding": 0,
        "labelExpr": "datum.label == 'a' ? 'HZ' : datum.label == 'b' ? 'ZZ → l l ν ν' : datum.label == 'c' ? 'WW, t t\u0304' : 'ZZ → l l τ τ, ZW, Z + jet'"}}
  }
},
{
  "width": 446, "height": 433,
  "layer": [
    {
      "data": {"name": "p2"},
      "mark": {"type": "line", "interpolate": "step-after", "clip": true},
      "encoding": {
        "x": {"field": "x", "type": "quantitative", "scale": {"domain": [-1, 1.2], "nice": false, "zero": false},
          "axis": {"title": "cos(jet_1 - E_T^miss)", "titleAnchor": "end", "titlePadding": -4, "labelPadding": 15,
            "values": [-1,-0.9,-0.8,-0.7,-0.6,-0.5,-0.4,-0.3,-0.2,-0.1,0,0.1,0.2,0.3,0.4,0.5,0.6,0.7,0.8,0.9,1],
            "labelExpr": "abs(datum.value*2 - round(datum.value*2)) < 0.001 ? (datum.value < 0 ? '-' + format(-datum.value, '') : format(datum.value, '')) : ''",
            "tickSize": {"condition": {"test": "abs(datum.value*2 - round(datum.value*2)) < 0.001", "value": -13}, "value": -7}}},
        "y": {"field": "y", "type": "quantitative", "scale": {"type": "log", "domain": [0.00118, 0.6], "nice": false, "clamp": true},
          "axis": {"title": "arbitrary units", "titleAnchor": "end", "titlePadding": -2, "labelPadding": 17,
            "values": [0.002,0.003,0.004,0.005,0.006,0.007,0.008,0.009,0.01,0.02,0.03,0.04,0.05,0.06,0.07,0.08,0.09,0.1,0.2,0.3,0.4,0.5],
            "labelExpr": "abs(log(datum.value)/LN10 - round(log(datum.value)/LN10)) < 0.001 ? (round(log(datum.value)/LN10) == 0 ? '1' : '10' + ['', '⁻¹', '⁻²', '⁻³', '⁻⁴', '⁻⁵'][-round(log(datum.value)/LN10)]) : ''",
            "tickSize": {"condition": {"test": "abs(log(datum.value)/LN10 - round(log(datum.value)/LN10)) < 0.001", "value": -13}, "value": -7}}},
        "color": {"field": "s", "type": "nominal", "scale": {"domain": ["a","b","c","d"], "range": ["#ff0000","#0000ff","#ff00ff","#000000"]}, "legend": null},
        "strokeDash": {"field": "s", "type": "nominal", "scale": {"domain": ["a","b","c","d"], "range": [[1,0],[7,5],[3,3],[7,6,2,6]]}, "legend": null},
        "strokeWidth": {"field": "s", "type": "nominal", "scale": {"domain": ["a","b","c","d"], "range": [5,4,3,4]}, "legend": null}
      }
    },
    {
      "data": {"values": [{"label": "ATLAS", "x": 0.246, "y": 0.19}]},
      "mark": {"type": "text", "font": "Liberation Sans", "fontSize": 32, "fontWeight": "bold", "fontStyle": "italic", "color": "#000000"},
      "encoding": {
        "x": {"field": "x", "type": "quantitative"},
        "y": {"field": "y", "type": "quantitative"},
        "text": {"field": "label", "type": "nominal"}
      }
    }
  ]
},
{
  "width": 447, "height": 434,
  "data": {"name": "p3"},
  "mark": {"type": "line", "interpolate": "step-after", "clip": true},
  "encoding": {
    "x": {"field": "x", "type": "quantitative", "scale": {"domain": [0, 300], "nice": false, "zero": false},
      "axis": {"title": "energy in cone around lepton 1 (GeV)", "titleAnchor": "end", "titlePadding": -4, "labelPadding": 15,
        "values": [0,10,20,30,40,50,60,70,80,90,100,110,120,130,140,150,160,170,180,190,200,210,220,230,240,250,260,270,280,290,300],
        "labelExpr": "datum.value % 50 == 0 ? format(datum.value, '') : ''",
        "tickSize": {"condition": {"test": "datum.value % 50 == 0", "value": -13}, "value": -7}}},
    "y": {"field": "y", "type": "quantitative", "scale": {"type": "log", "domain": [0.000005, 0.82], "nice": false, "clamp": true},
      "axis": {"title": "arbitrary units", "titleAnchor": "end", "titlePadding": -2, "labelPadding": 17,
        "values": [6e-6,7e-6,8e-6,9e-6,1e-5,2e-5,3e-5,4e-5,5e-5,6e-5,7e-5,8e-5,9e-5,1e-4,2e-4,3e-4,4e-4,5e-4,6e-4,7e-4,8e-4,9e-4,0.001,0.002,0.003,0.004,0.005,0.006,0.007,0.008,0.009,0.01,0.02,0.03,0.04,0.05,0.06,0.07,0.08,0.09,0.1,0.2,0.3,0.4,0.5,0.6,0.7,0.8],
        "labelExpr": "abs(log(datum.value)/LN10 - round(log(datum.value)/LN10)) < 0.001 ? (round(log(datum.value)/LN10) == 0 ? '1' : '10' + ['', '⁻¹', '⁻²', '⁻³', '⁻⁴', '⁻⁵'][-round(log(datum.value)/LN10)]) : ''",
        "tickSize": {"condition": {"test": "abs(log(datum.value)/LN10 - round(log(datum.value)/LN10)) < 0.001", "value": -13}, "value": -7}}},
    "color": {"field": "s", "type": "nominal", "scale": {"domain": ["a","b","c","d"], "range": ["#ff0000","#0000ff","#ff00ff","#000000"]}, "legend": null},
    "strokeDash": {"field": "s", "type": "nominal", "scale": {"domain": ["a","b","c","d"], "range": [[1,0],[7,5],[3,3],[7,6,2,6]]}, "legend": null},
    "strokeWidth": {"field": "s", "type": "nominal", "scale": {"domain": ["a","b","c","d"], "range": [5,4,3,4]}, "legend": null}
  }
},
{
  "width": 446, "height": 434,
  "data": {"name": "p4"},
  "mark": {"type": "line", "interpolate": "step-after", "clip": true},
  "encoding": {
    "x": {"field": "x", "type": "quantitative", "scale": {"domain": [0, 300], "nice": false, "zero": false},
      "axis": {"title": "energy in cone around lepton 2 (GeV)", "titleAnchor": "end", "titlePadding": -4, "labelPadding": 15,
        "values": [0,10,20,30,40,50,60,70,80,90,100,110,120,130,140,150,160,170,180,190,200,210,220,230,240,250,260,270,280,290,300],
        "labelExpr": "datum.value % 50 == 0 ? format(datum.value, '') : ''",
        "tickSize": {"condition": {"test": "datum.value % 50 == 0", "value": -13}, "value": -7}}},
    "y": {"field": "y", "type": "quantitative", "scale": {"type": "log", "domain": [0.000024, 0.73], "nice": false, "clamp": true},
      "axis": {"title": "arbitrary units", "titleAnchor": "end", "titlePadding": -2, "labelPadding": 17,
        "values": [3e-5,4e-5,5e-5,6e-5,7e-5,8e-5,9e-5,1e-4,2e-4,3e-4,4e-4,5e-4,6e-4,7e-4,8e-4,9e-4,0.001,0.002,0.003,0.004,0.005,0.006,0.007,0.008,0.009,0.01,0.02,0.03,0.04,0.05,0.06,0.07,0.08,0.09,0.1,0.2,0.3,0.4,0.5,0.6,0.7],
        "labelExpr": "abs(log(datum.value)/LN10 - round(log(datum.value)/LN10)) < 0.001 ? (round(log(datum.value)/LN10) == 0 ? '1' : '10' + ['', '⁻¹', '⁻²', '⁻³', '⁻⁴', '⁻⁵'][-round(log(datum.value)/LN10)]) : ''",
        "tickSize": {"condition": {"test": "abs(log(datum.value)/LN10 - round(log(datum.value)/LN10)) < 0.001", "value": -13}, "value": -7}}},
    "color": {"field": "s", "type": "nominal", "scale": {"domain": ["a","b","c","d"], "range": ["#ff0000","#0000ff","#ff00ff","#000000"]}, "legend": null},
    "strokeDash": {"field": "s", "type": "nominal", "scale": {"domain": ["a","b","c","d"], "range": [[1,0],[7,5],[3,3],[7,6,2,6]]}, "legend": null},
    "strokeWidth": {"field": "s", "type": "nominal", "scale": {"domain": ["a","b","c","d"], "range": [5,4,3,4]}, "legend": null}
  }
}
]
}
